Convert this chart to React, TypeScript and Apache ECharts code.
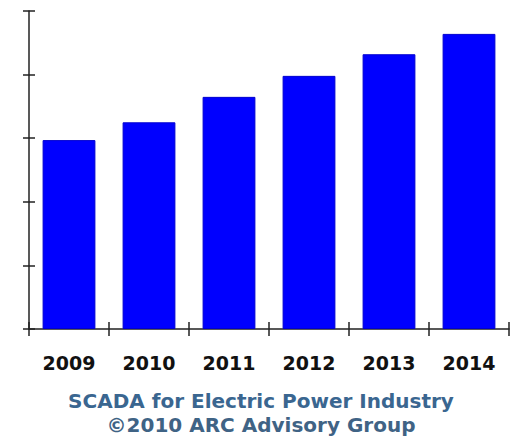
import React, { useEffect, useRef } from "react";
import * as echarts from "echarts";

const years = ["2009", "2010", "2011", "2012", "2013", "2014"];
const values = [2.97, 3.25, 3.65, 3.98, 4.32, 4.64];
const yTicks = [0, 1, 2, 3, 4, 5];
const titleLines = ["SCADA for Electric Power Industry", "©2010 ARC Advisory Group"];

export default function App() {
  const ref = useRef<HTMLDivElement>(null);
  useEffect(() => {
    if (!ref.current) return;
    const chart = echarts.init(ref.current, null, { renderer: "svg" });
    const axisColor = "#222";
    chart.setOption({
      animation: false,
      backgroundColor: "#ffffff",
      grid: { left: 29, right: 10, top: 11, bottom: 109, containLabel: false },
      graphic: titleLines.map((t, i) => ({
        type: "text",
        x: 261,
        y: 401 + i * 24,
        style: {
          text: t,
          fill: i === 0 ? "#3a6690" : "#3f6385",
          font: "bold 20px 'DejaVu Sans'",
          textAlign: "center",
          textVerticalAlign: "middle",
        },
      })),
      xAxis: [
        {
          type: "category",
          data: years,
          position: "bottom",
          axisLine: { show: true, lineStyle: { color: axisColor, width: 1.5 } },
          axisTick: { show: true, inside: false, length: 7, lineStyle: { color: axisColor, width: 1.5 } },
          axisLabel: {
            margin: 24,
            fontFamily: "DejaVu Sans",
            fontWeight: "bold",
            fontSize: 19,
            color: "#111",
          },
        },
        {
          type: "category",
          data: years,
          position: "bottom",
          axisLine: { show: false },
          axisTick: { show: true, inside: true, length: 7, lineStyle: { color: axisColor, width: 1.5 } },
          axisLabel: { show: false },
        },
      ],
      yAxis: [
        {
          type: "value",
          min: yTicks[0],
          max: yTicks[yTicks.length - 1],
          interval: 1,
          splitLine: { show: false },
          axisLine: { show: true, lineStyle: { color: axisColor, width: 1.5 } },
          axisTick: { show: true, inside: false, length: 6, lineStyle: { color: axisColor, width: 1.5 } },
          axisLabel: { show: false },
        },
        {
          type: "value",
          position: "left",
          min: yTicks[0],
          max: yTicks[yTicks.length - 1],
          interval: 1,
          splitLine: { show: false },
          axisLine: { show: false },
          axisTick: { show: true, inside: true, length: 6, lineStyle: { color: axisColor, width: 1.5 } },
          axisLabel: { show: false },
        },
      ],
      series: [
        {
          type: "bar",
          data: values,
          xAxisIndex: 0,
          yAxisIndex: 0,
          barCategoryGap: "34%",
          itemStyle: { color: "#0000ff", borderColor: "#0000d0", borderWidth: 1 },
        },
      ],
    });
    return () => chart.dispose();
  }, []);
  return (
    <div
      ref={ref}
      style={{ position: "fixed", left: 0, top: 0, width: 519, height: 438 }}
    />
  );
}
